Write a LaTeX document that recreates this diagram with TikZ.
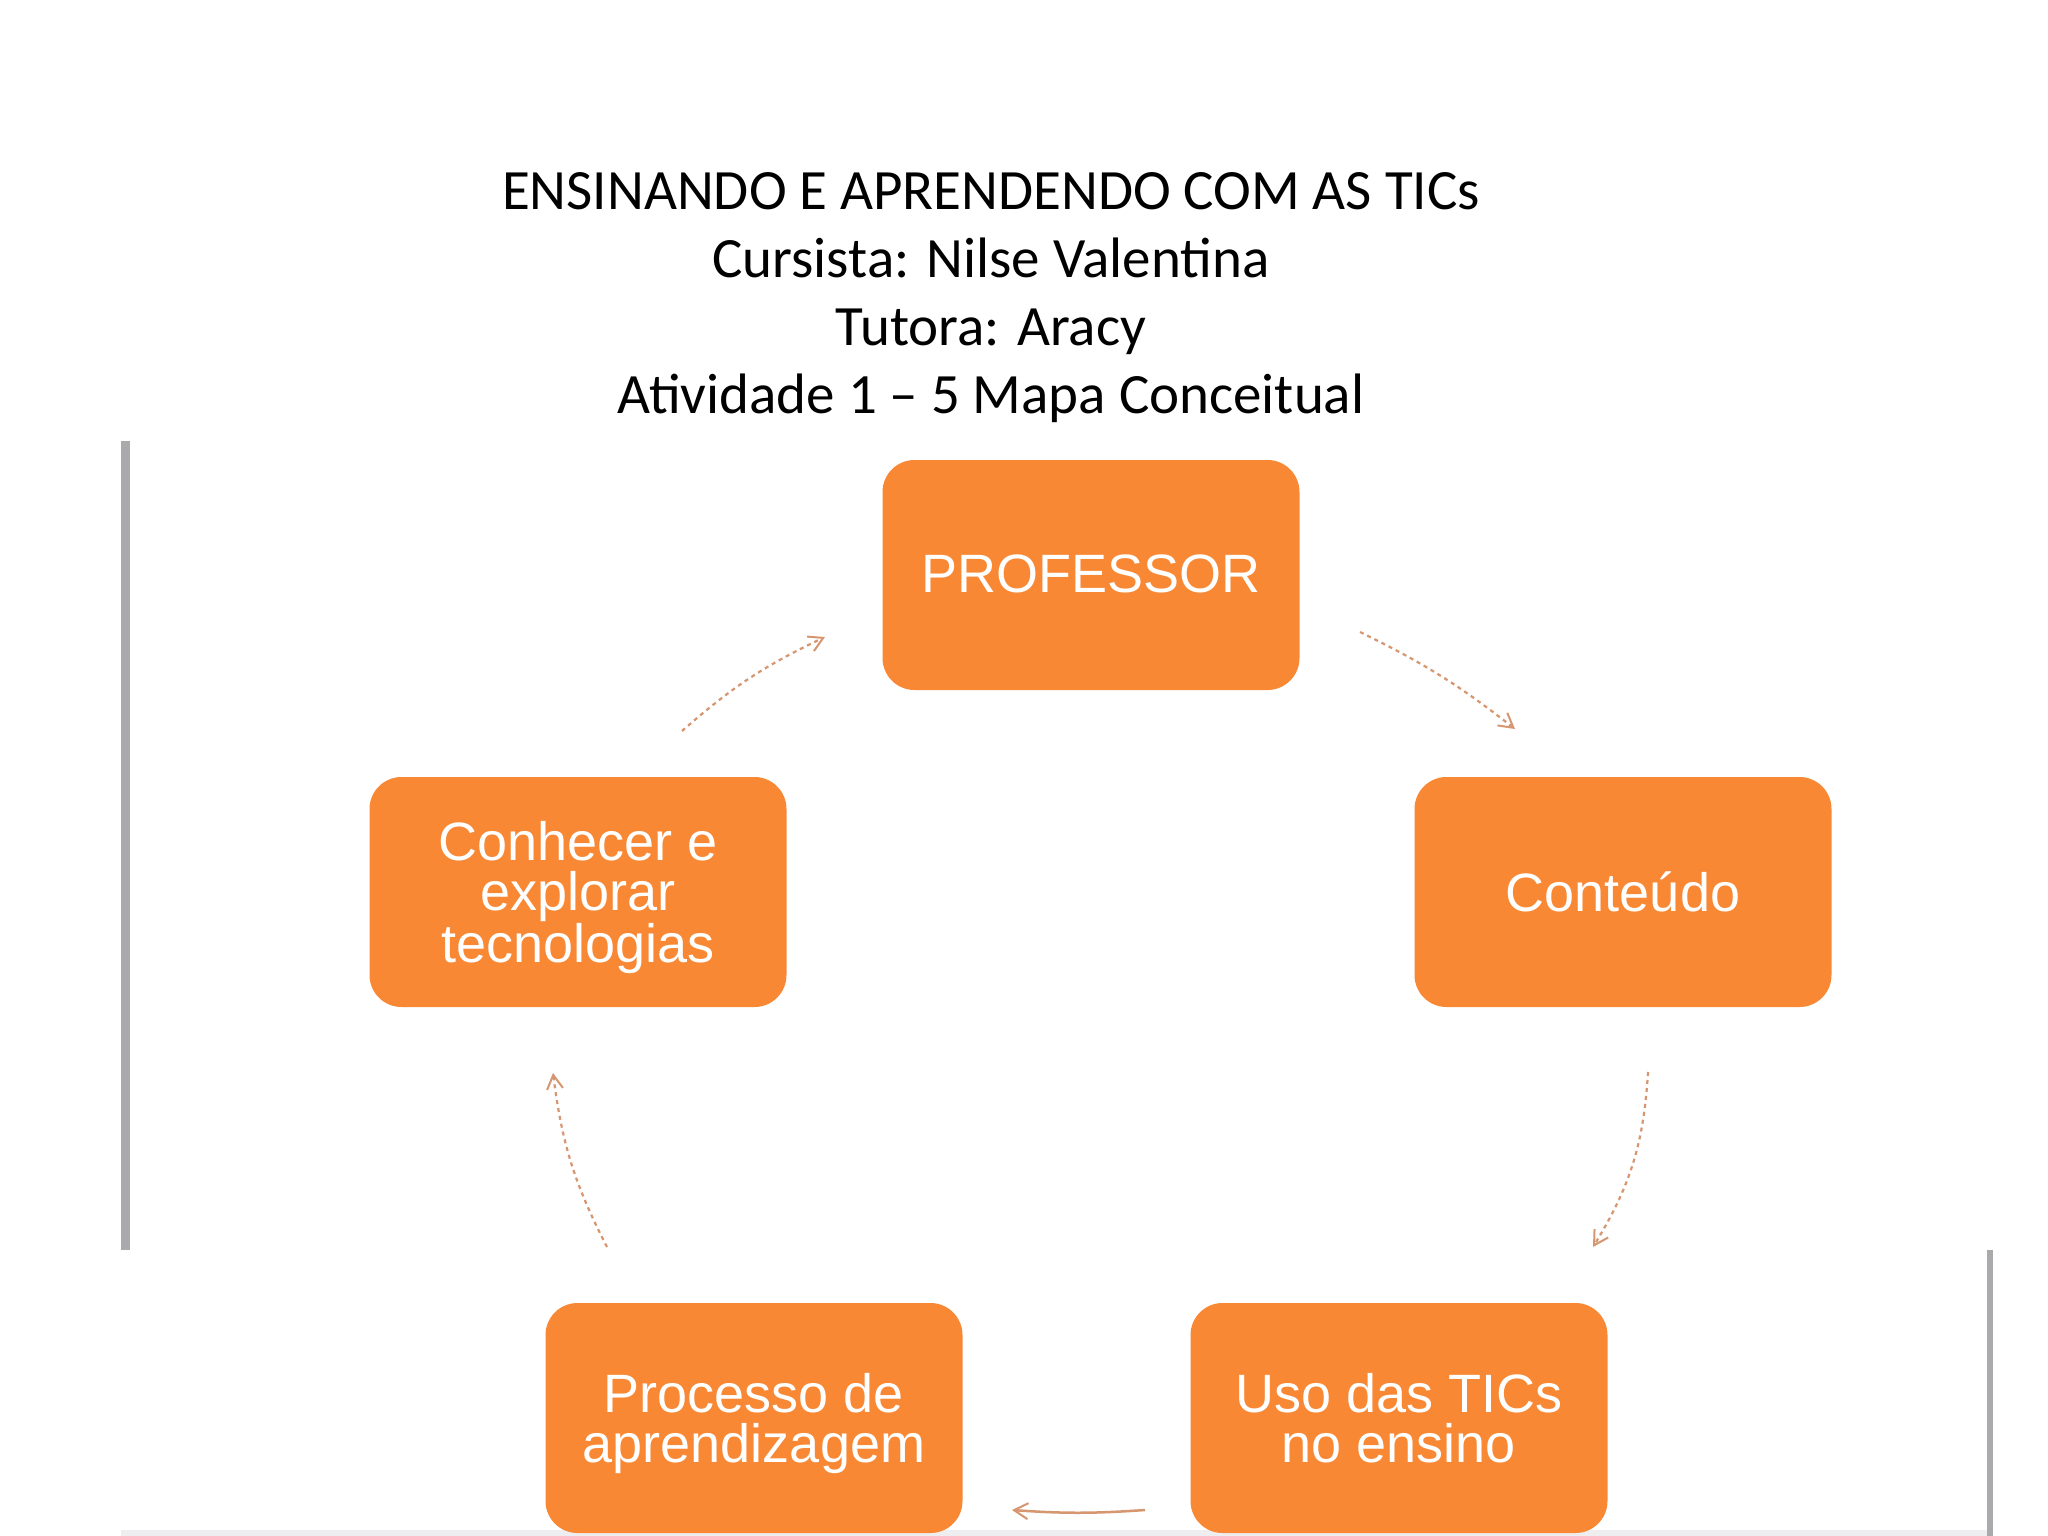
\documentclass[tikz,border=0pt]{standalone}
\usepackage{fontspec}
\setmainfont{Carlito}
\newfontfamily\boxfont{Liberation Sans}
\usetikzlibrary{arrows.meta}
\definecolor{boxorange}{HTML}{F98835}
\definecolor{arrowcol}{RGB}{214,150,112}
\definecolor{rulegray}{RGB}{170,170,172}
\definecolor{stripgray}{RGB}{238,238,240}
\newcommand{\nodepth}[1]{\raisebox{0pt}[\height][0pt]{#1}}
\tikzset{
  conceptbox/.style={fill=boxorange, draw=none, rounded corners=32pt,
    minimum width=417pt, minimum height=230pt, inner sep=0pt,
    text=white, align=center, font=\boxfont\fontsize{54}{50}\selectfont},
  titleline/.style={anchor=base, font=\fontsize{57}{68}\selectfont, text=black, inner sep=0pt},
  flowarrow/.style={draw=arrowcol, line width=2.2pt, dash pattern=on 4pt off 4pt,
    -{Straight Barb[length=14pt,width=16pt,line width=2pt]}},
  solidarrow/.style={draw=arrowcol, line width=2.5pt,
    -{Straight Barb[length=14pt,width=16pt,line width=2pt]}}
}
\begin{document}
\begin{tikzpicture}[x=1pt,y=-1pt]
\useasboundingbox (0,0) rectangle (2048,1536);
\fill[white] (0,0) rectangle (2048,1536);
% gray rules and bottom strip
\fill[rulegray] (121,441) rectangle (130,1250);
\fill[rulegray] (1987,1250) rectangle (1993,1536);
\fill[stripgray] (121,1530) rectangle (1987,1536);
% title
\node[titleline] (t1) at (991,209) {ENSINANDO E APRENDENDO COM AS TICs};
\node[titleline] (t2) at (991,277) {Cursista: Nilse Valentina};
\node[titleline] (t3) at (991,345) {Tutora: Aracy};
\node[titleline] (t4) at (991,413) {Atividade 1 -- 5 Mapa Conceitual};
% boxes
\node[conceptbox] (prof) at (1091,575) {\raisebox{2pt}{PROFESSOR}};
\node[conceptbox] (cont) at (1623,892) {\nodepth{Conteúdo}};
\node[conceptbox] (conh) at (578,892) {Conhecer e\\explorar\\\nodepth{tecnologias}};
\node[conceptbox] (proc) at (754,1418) {Processo de\\\nodepth{aprendizagem}};
\node[conceptbox] (uso) at (1399,1418) {Uso das TICs\\no ensino};
% arrow end points
\coordinate (a1s) at (682,731);  \coordinate (a1e) at (825,637);
\coordinate (a2s) at (1360,632); \coordinate (a2e) at (1515,729);
\coordinate (a3s) at (1648,1072);\coordinate (a3e) at (1593,1247);
\coordinate (a4s) at (1145,1510);\coordinate (a4e) at (1012,1510);
\coordinate (a5s) at (607,1247); \coordinate (a5e) at (553,1073);
\draw[flowarrow] (a1s) to[bend left=8] (a1e);
\draw[flowarrow] (a2s) to[bend left=6] (a2e);
\draw[flowarrow] (a3s) to[bend left=14] (a3e);
\draw[solidarrow] (a4s) to[bend left=4] (a4e);
\draw[flowarrow] (a5s) to[bend left=10] (a5e);
\end{tikzpicture}
\end{document}
